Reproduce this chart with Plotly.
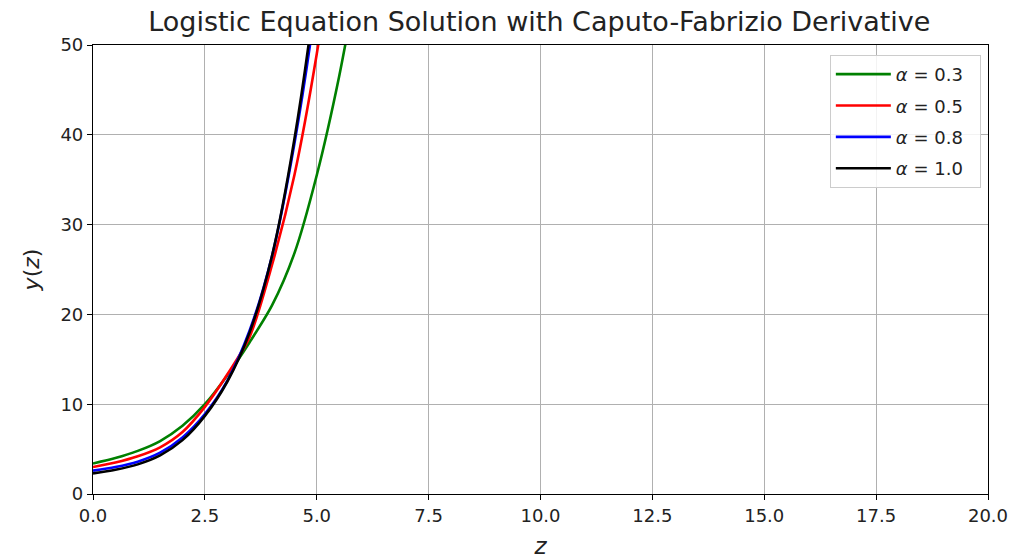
import plotly.graph_objects as go

z_vals = [0.0, 0.5, 1.0, 1.5, 2.0, 2.5, 3.0, 3.5, 4.0, 4.5, 5.0, 5.5, 6.0]

y_alpha_03 = [3.4, 4.0, 4.8, 5.9, 7.6, 10.0, 13.2, 16.9, 21.0, 26.8, 35.5, 46.5, 60.0]
y_alpha_05 = [3.0, 3.5, 4.2, 5.2, 6.9, 9.7, 13.3, 17.5, 25.5, 35.5, 49.0, 66.0, 88.0]
y_alpha_08 = [2.6, 3.0, 3.6, 4.6, 6.3, 8.9, 12.6, 18.2, 26.5, 39.0, 55.5, 78.0, 105.0]
y_alpha_10 = [2.3, 2.7, 3.3, 4.3, 6.0, 8.7, 12.5, 18.0, 26.5, 39.5, 57.0, 80.0, 110.0]

series = [
    ("0.3", y_alpha_03, "#008000"),
    ("0.5", y_alpha_05, "#ff0000"),
    ("0.8", y_alpha_08, "#0000ff"),
    ("1.0", y_alpha_10, "#000000"),
]

x_ticks = [0, 2.5, 5, 7.5, 10, 12.5, 15, 17.5, 20]
y_ticks = [0, 10, 20, 30, 40, 50]

fig = go.Figure()
for a, ys, col in series:
    fig.add_trace(go.Scatter(
        x=z_vals, y=ys, mode="lines",
        line=dict(color=col, width=2.6, shape="spline", smoothing=0.8),
        name="<i>α</i> = " + a + "\u00a0\u00a0", legendgroup=a,
    ))

font = "DejaVu Sans"
fig.update_layout(
    width=1010, height=559,
    margin=dict(l=93, r=22, t=45, b=65, autoexpand=False),
    paper_bgcolor="white", plot_bgcolor="white",
    font=dict(family=font, size=19, color="#222"),
    title=dict(text="Logistic Equation Solution with Caputo-Fabrizio Derivative",
               x=0.534, xanchor="center", y=0.962, yanchor="middle",
               font=dict(size=27, family=font, color="#222")),
    showlegend=True,
    legend=dict(x=0.992, xanchor="right", y=0.978, yanchor="top",
                bgcolor="rgba(255,255,255,0.85)", bordercolor="#cccccc", borderwidth=1,
                font=dict(size=18, family=font), itemwidth=55, tracegroupgap=5),
)
fig.update_xaxes(
    range=[0, 20], tickvals=x_ticks, ticktext=[f"{v:.1f}" for v in x_ticks],
    showgrid=True, gridcolor="#b0b0b0", gridwidth=1, automargin=False,
    showline=True, linecolor="black", linewidth=1.2, mirror=True,
    ticks="outside", ticklen=5, tickcolor="black", zeroline=False,
    title=dict(text="<i>z</i>", font=dict(size=23, family=font), standoff=13),
    tickfont=dict(size=18),
)
fig.update_yaxes(
    range=[0, 50], tickvals=y_ticks,
    showgrid=True, gridcolor="#b0b0b0", gridwidth=1, automargin=False,
    showline=True, linecolor="black", linewidth=1.2, mirror=True,
    ticks="outside", ticklen=5, tickcolor="black", zeroline=False,
    title=dict(text="<i>y</i>(<i>z</i>)", font=dict(size=22, family=font), standoff=14),
    tickfont=dict(size=18),
)

fig.write_html("out.html")
